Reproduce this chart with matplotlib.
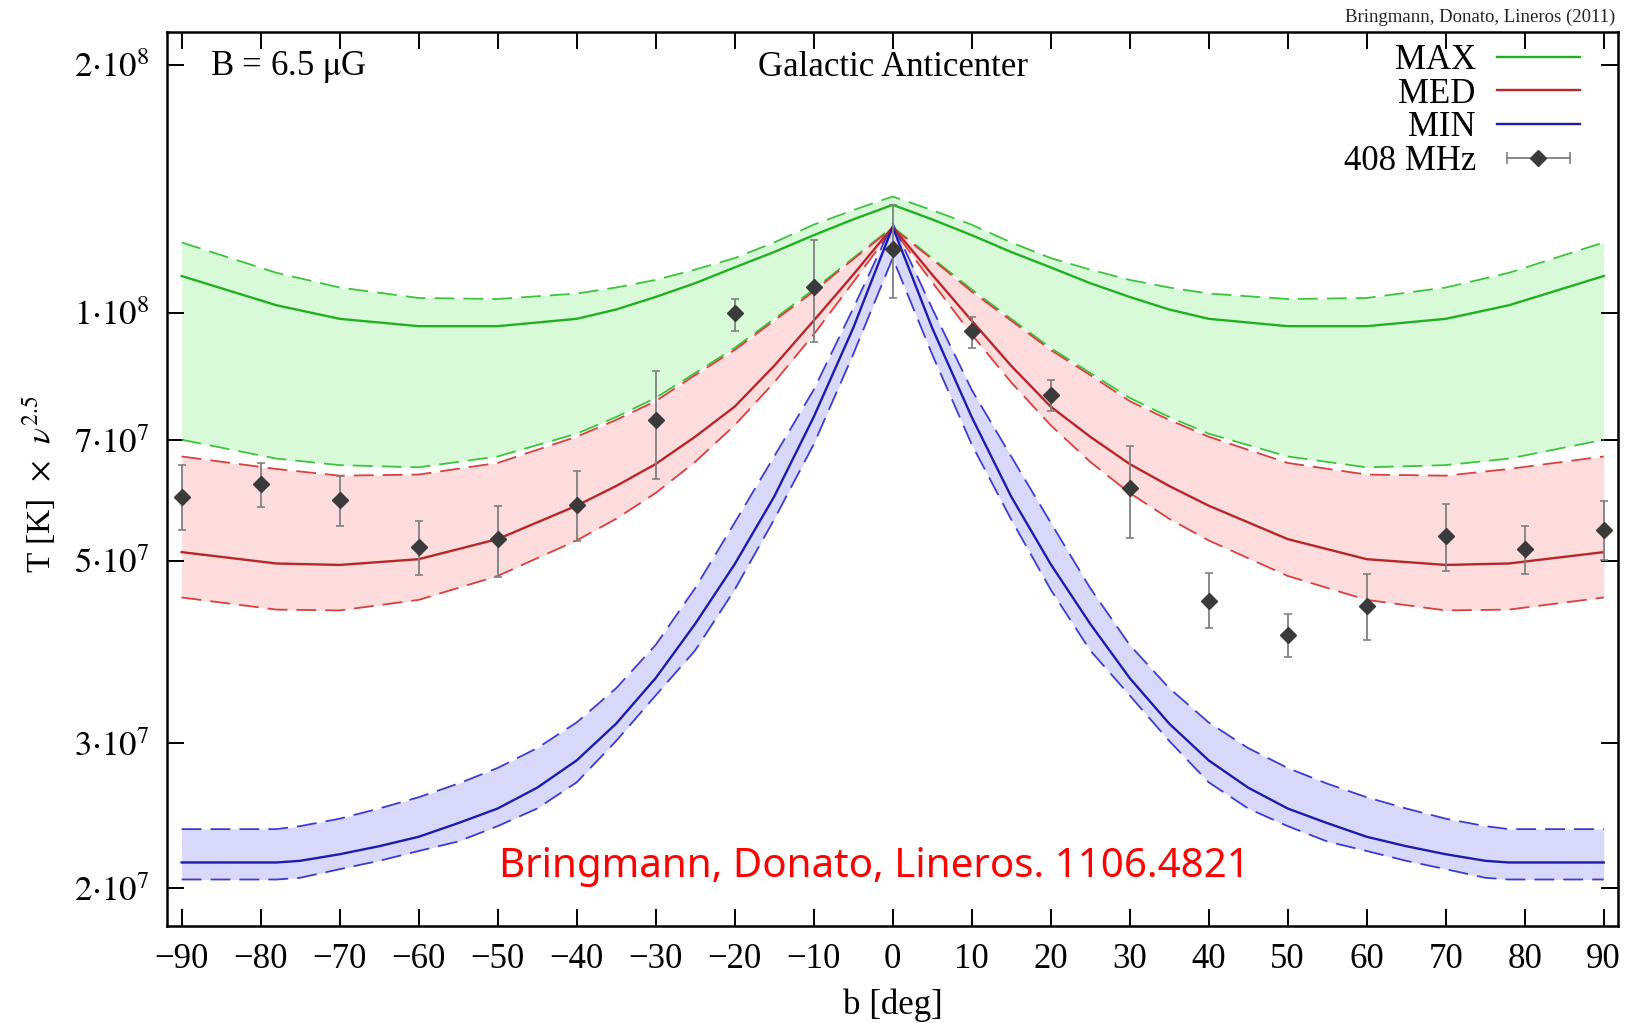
import numpy as np
import matplotlib.pyplot as plt
from matplotlib.lines import Line2D
from matplotlib.legend_handler import HandlerLine2D, HandlerTuple

plt.rcParams['font.family'] = ['Liberation Serif', 'DejaVu Serif']
plt.rcParams['mathtext.fontset'] = 'stix'

# latitude grid of the MAX / MED bands
b_band = [-90, -78, -70, -60, -50, -40, -35, -30, -25, -20, -15, -10, -5, 0,
          5, 10, 15, 20, 25, 30, 35, 40, 50, 60, 70, 78, 90]
max_hi = [1.217e8, 1.118e8, 1.073e8, 1.042e8, 1.039e8, 1.055e8, 1.073e8, 1.096e8, 1.128e8,
          1.165e8, 1.217e8, 1.279e8, 1.332e8, 1.384e8, 1.332e8, 1.279e8, 1.217e8, 1.165e8,
          1.128e8, 1.096e8, 1.073e8, 1.055e8, 1.039e8, 1.042e8, 1.073e8, 1.118e8, 1.217e8]
max_mid = [1.108e8, 1.021e8, 9.83e7, 9.63e7, 9.63e7, 9.83e7, 1.009e8, 1.045e8, 1.086e8,
           1.135e8, 1.185e8, 1.242e8, 1.298e8, 1.352e8, 1.298e8, 1.242e8, 1.185e8, 1.135e8,
           1.086e8, 1.045e8, 1.009e8, 9.83e7, 9.63e7, 9.63e7, 9.83e7, 1.021e8, 1.108e8]
max_lo = [7.01e7, 6.65e7, 6.53e7, 6.49e7, 6.69e7, 7.13e7, 7.47e7, 7.88e7, 8.45e7,
          9.06e7, 9.83e7, 1.067e8, 1.165e8, 1.271e8, 1.165e8, 1.067e8, 9.83e7, 9.06e7,
          8.45e7, 7.88e7, 7.47e7, 7.13e7, 6.69e7, 6.49e7, 6.53e7, 6.65e7, 7.01e7]
med_hi = [6.69e7, 6.46e7, 6.34e7, 6.36e7, 6.57e7, 7.07e7, 7.41e7, 7.81e7, 8.40e7,
          9.01e7, 9.78e7, 1.061e8, 1.161e8, 1.268e8, 1.161e8, 1.061e8, 9.78e7, 9.01e7,
          8.40e7, 7.81e7, 7.41e7, 7.07e7, 6.57e7, 6.36e7, 6.34e7, 6.46e7, 6.69e7]
med_mid = [5.12e7, 4.96e7, 4.94e7, 5.02e7, 5.31e7, 5.83e7, 6.16e7, 6.55e7, 7.07e7,
           7.69e7, 8.62e7, 9.78e7, 1.112e8, 1.271e8, 1.112e8, 9.78e7, 8.62e7, 7.69e7,
           7.07e7, 6.55e7, 6.16e7, 5.83e7, 5.31e7, 5.02e7, 4.94e7, 4.96e7, 5.12e7]
med_lo = [4.51e7, 4.36e7, 4.35e7, 4.48e7, 4.79e7, 5.29e7, 5.62e7, 6.04e7, 6.59e7,
          7.30e7, 8.23e7, 9.41e7, 1.089e8, 1.264e8, 1.089e8, 9.41e7, 8.23e7, 7.30e7,
          6.59e7, 6.04e7, 5.62e7, 5.29e7, 4.79e7, 4.48e7, 4.35e7, 4.36e7, 4.51e7]

# latitude grid of the MIN band
b_min = [-90, -78, -75, -70, -65, -60, -55, -50, -45, -40, -35, -30, -25, -20, -15, -10, -5, 0,
         5, 10, 15, 20, 25, 30, 35, 40, 45, 50, 55, 60, 65, 70, 75, 78, 90]
min_hi = [2.36e7, 2.36e7, 2.38e7, 2.43e7, 2.50e7, 2.58e7, 2.68e7, 2.80e7, 2.96e7, 3.18e7,
          3.50e7, 3.95e7, 4.63e7, 5.56e7, 6.69e7, 8.06e7, 1.012e8, 1.283e8,
          1.012e8, 8.06e7, 6.69e7, 5.56e7, 4.63e7, 3.95e7, 3.50e7, 3.18e7, 2.96e7,
          2.80e7, 2.68e7, 2.58e7, 2.50e7, 2.43e7, 2.38e7, 2.36e7, 2.36e7]
min_mid = [2.15e7, 2.15e7, 2.16e7, 2.20e7, 2.25e7, 2.31e7, 2.40e7, 2.50e7, 2.65e7, 2.86e7,
           3.17e7, 3.60e7, 4.19e7, 4.95e7, 5.98e7, 7.47e7, 9.58e7, 1.271e8,
           9.58e7, 7.47e7, 5.98e7, 4.95e7, 4.19e7, 3.60e7, 3.17e7, 2.86e7, 2.65e7,
           2.50e7, 2.40e7, 2.31e7, 2.25e7, 2.20e7, 2.16e7, 2.15e7, 2.15e7]
min_lo = [2.05e7, 2.05e7, 2.06e7, 2.11e7, 2.16e7, 2.22e7, 2.28e7, 2.38e7, 2.50e7, 2.69e7,
          3.02e7, 3.43e7, 3.89e7, 4.61e7, 5.61e7, 6.92e7, 8.90e7, 1.165e8,
          8.90e7, 6.92e7, 5.61e7, 4.61e7, 3.89e7, 3.43e7, 3.02e7, 2.69e7, 2.50e7,
          2.38e7, 2.28e7, 2.22e7, 2.16e7, 2.11e7, 2.06e7, 2.05e7, 2.05e7]

# 408 MHz survey points
b_obs = [-90, -80, -70, -60, -50, -40, -30, -20, -10, 0, 10, 20, 30, 40, 50, 60, 70, 80, 90]
obs_val = [5.98e7, 6.20e7, 5.93e7, 5.19e7, 5.31e7, 5.84e7, 7.41e7, 9.98e7, 1.073e8, 1.196e8,
           9.49e7, 7.94e7, 6.12e7, 4.47e7, 4.06e7, 4.40e7, 5.35e7, 5.16e7, 5.45e7]
obs_hi = [6.53e7, 6.56e7, 6.34e7, 5.58e7, 5.83e7, 6.42e7, 8.49e7, 1.039e8, 1.224e8, 1.35e8,
          9.89e7, 8.28e7, 6.88e7, 4.83e7, 4.31e7, 4.82e7, 5.86e7, 5.51e7, 5.91e7]
obs_lo = [5.45e7, 5.81e7, 5.51e7, 4.80e7, 4.78e7, 5.28e7, 6.29e7, 9.49e7, 9.22e7, 1.042e8,
          9.06e7, 7.60e7, 5.32e7, 4.14e7, 3.82e7, 4.01e7, 4.86e7, 4.82e7, 5.01e7]

ytick_vals = [2e7, 3e7, 5e7, 7e7, 1e8, 2e8]
ytick_labels = [r'$2{\cdot}10^{7}$', r'$3{\cdot}10^{7}$', r'$5{\cdot}10^{7}$',
                r'$7{\cdot}10^{7}$', r'$1{\cdot}10^{8}$', r'$2{\cdot}10^{8}$']
xtick_vals = [-90, -80, -70, -60, -50, -40, -30, -20, -10, 0, 10, 20, 30, 40, 50, 60, 70, 80, 90]

# colours
g_line, g_dash, g_fill = '#22b022', '#3cc43c', '#d9fad9'
r_line, r_dash, r_fill = '#b8262a', '#d8403e', '#fcdcdc'
b_line, b_dash, b_fill = '#1c1ca8', '#3c3cd0', '#d8d8fa'

fig = plt.figure(figsize=(16.32, 10.23), dpi=100)
ax = fig.add_axes([0.1021, 0.0948, 0.8893, 0.8736])
ax.set_yscale('log')

bands = [
    (b_band, max_hi, max_mid, max_lo, g_line, g_dash, g_fill),
    (b_band, med_hi, med_mid, med_lo, r_line, r_dash, r_fill),
    (b_min, min_hi, min_mid, min_lo, b_line, b_dash, b_fill),
]
for bb, hi, mid, lo, cl, cd, cf in bands:
    ax.fill_between(bb, lo, hi, color=cf, lw=0, zorder=1)
for bb, hi, mid, lo, cl, cd, cf in bands:
    ax.plot(bb, hi, color=cd, lw=1.3, dashes=(11, 5), zorder=2)
    ax.plot(bb, lo, color=cd, lw=1.3, dashes=(11, 5), zorder=2)
    ax.plot(bb, mid, color=cl, lw=1.7, zorder=3)

obs_val = np.array(obs_val)
yerr = [obs_val - np.array(obs_lo), np.array(obs_hi) - obs_val]
ax.errorbar(b_obs, obs_val, yerr=yerr, fmt='none', ecolor='#808080', elinewidth=1.3,
            capsize=3, capthick=1.2, zorder=4)
ax.plot(b_obs, obs_val, ls='none', marker='D', ms=8.5, color='#3a3a3a', zorder=5)

ax.set_xlim(-91.9, 91.8)
ax.set_ylim(1.80e7, 2.19e8)
ax.set_xticks(xtick_vals)
ax.set_yticks(ytick_vals)
ax.set_yticklabels(ytick_labels)
ax.yaxis.set_minor_locator(plt.NullLocator())
ax.tick_params(direction='in', length=12, width=1.4, top=True, right=True,
               labelsize=25)
ax.tick_params(axis='y', pad=12)
ax.tick_params(axis='x', pad=12)
for s in ax.spines.values():
    s.set_linewidth(1.8)

ax.text(0.030, 0.961, r'B = 6.5 $\mathrm{\mu}$G', transform=ax.transAxes,
        fontsize=25, ha='left', va='center')
ax.text(0.5005, 0.961, 'Galactic Anticenter', transform=ax.transAxes,
        fontsize=25, ha='center', va='center')

fig.text(0.0245, 0.527, r'T [K]  $\times$  $\nu^{2.5}$', rotation=90,
         fontsize=24, ha='center', va='center')
fig.text(0.547, 0.017, 'b [deg]', fontsize=25, ha='center', va='center')
fig.text(0.990, 0.983, 'Bringmann, Donato, Lineros (2011)', fontsize=13.5,
         ha='right', va='center', color='#222222')
fig.text(0.5355, 0.1525, 'Bringmann, Donato, Lineros. 1106.4821', color='red',
         fontsize=29, family='Noto Sans', ha='center', va='center')

# legend
h_max = Line2D([], [], color=g_line, lw=1.7)
h_med = Line2D([], [], color=r_line, lw=1.7)
h_min = Line2D([], [], color=b_line, lw=1.7)
h_bar = Line2D([], [], color='#808080', lw=1.3, marker='|', ms=9, mew=1.2)
h_pt = Line2D([], [], ls='none', marker='D', ms=8, color='#3a3a3a')
ax.legend([h_max, h_med, h_min, (h_bar, h_pt)], ['MAX', 'MED', 'MIN', '408 MHz'],
          handler_map={h_bar: HandlerLine2D(numpoints=2), tuple: HandlerTuple(ndivide=1, pad=0)},
          loc='upper right', bbox_to_anchor=(0.9738, 0.987), markerfirst=False,
          frameon=False, fontsize=25, handlelength=2.4, handletextpad=0.6,
          labelspacing=0.02, borderaxespad=0, borderpad=0)

fig.savefig('out.png', dpi=100)
